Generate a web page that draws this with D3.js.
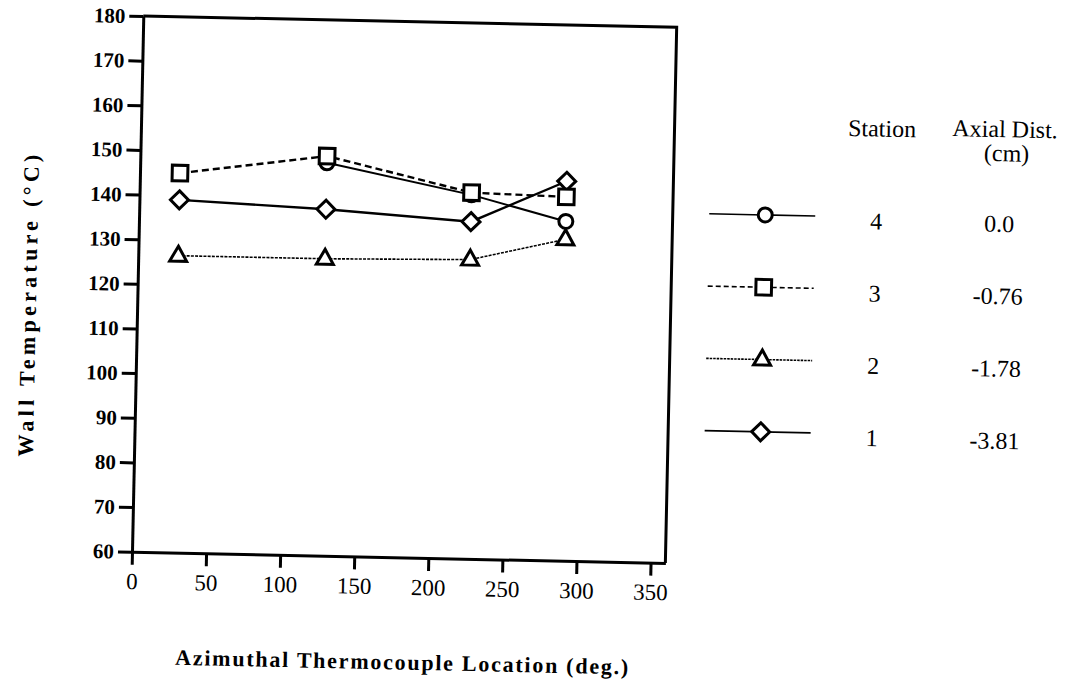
<!DOCTYPE html>
<html>
<head>
<meta charset="utf-8">
<script src="https://cdn.jsdelivr.net/npm/d3@7"></script>
<style>
  body { margin: 0; background: #fff; }
  svg { display: block; }
  text { font-family: "Liberation Serif", "Times New Roman", serif; fill: #000; }
</style>
</head>
<body>
<svg id="chart" width="1080" height="689"></svg>
<script>
// Azimuthal thermocouple positions (deg.)
const azimuth = [27, 126, 224, 288];

// Wall temperature (°C) per station; null = no reading
const station4 = [null, 148, 141.5, 136];
const station3 = [145, 149.5, 142, 141.5];
const station2 = [126.5, 126.5, 127, 132];
const station1 = [139, 137.6, 135.5, 145];

// Legend columns
const stationIds = ["4", "3", "2", "1"];
const axialDist = ["0.0", "-0.76", "-1.78", "-3.81"];

// Axis ticks
const xTicks = [0, 50, 100, 150, 200, 250, 300, 350];
const yTicks = [60, 70, 80, 90, 100, 110, 120, 130, 140, 150, 160, 170, 180];

const W = 533.5, H = 535.8;
const svg = d3.select("#chart");
// whole figure sits slightly tilted on the page
const g = svg.append("g").attr("transform", "translate(143.3,16) rotate(1.21)");

const x = d3.scaleLinear().domain([0, 360]).range([0, W]);
const y = d3.scaleLinear().domain([60, 180]).range([H, 0]);

// frame: top and right edges
g.append("path")
  .attr("d", `M${x(0)},${y(180)}H${x(360)}V${y(60)}`)
  .attr("fill", "none").attr("stroke", "#000").attr("stroke-width", 3);

// y axis
const yAx = g.append("g")
  .call(d3.axisLeft(y).tickValues(yTicks).tickSize(14).tickPadding(4).tickSizeOuter(0));
yAx.select(".domain").attr("stroke-width", 3);
yAx.selectAll(".tick line").attr("stroke-width", 3);
yAx.selectAll(".tick text")
  .style("font-size", "21px").style("font-weight", "bold")
  .style("font-family", "'Liberation Serif', serif");

// x axis
const xAx = g.append("g").attr("transform", `translate(0,${H})`)
  .call(d3.axisBottom(x).tickValues(xTicks).tickSize(13).tickPadding(8).tickSizeOuter(0));
xAx.select(".domain").attr("stroke-width", 3);
xAx.selectAll(".tick line").attr("stroke-width", 3);
xAx.selectAll(".tick text")
  .style("font-size", "23px")
  .style("font-family", "'Liberation Serif', serif");

// axis titles
g.append("text")
  .attr("transform", `translate(-109,292) rotate(-90)`)
  .attr("text-anchor", "middle").attr("dy", "0.35em")
  .attr("textLength", 302).attr("lengthAdjust", "spacing")
  .style("font-size", "22px").style("font-weight", "bold")
  .text("Wall Temperature (°C)");

g.append("text")
  .attr("x", 272).attr("y", 648)
  .attr("text-anchor", "middle")
  .attr("textLength", 453).attr("lengthAdjust", "spacing")
  .style("font-size", "22px").style("font-weight", "bold")
  .text("Azimuthal Thermocouple Location (deg.)");

// marker shapes (centred on 0,0)
const shapes = {
  circle: "M7,0A7,7 0 1,1 -7,0A7,7 0 1,1 7,0Z",
  square: "M-7.8,-7.8H7.8V7.8H-7.8Z",
  triangle: "M0,-9.5L8.5,5.5H-8.5Z",
  diamond: "M0,-9L9,0L0,9L-9,0Z"
};

const series = [
  { id: "2", values: station2, shape: "triangle", dash: "3,1.2", width: 1.6 },
  { id: "1", values: station1, shape: "diamond", dash: null, width: 2.4 },
  { id: "4", values: station4, shape: "circle", dash: null, width: 2.0 },
  { id: "3", values: station3, shape: "square", dash: "7,4", width: 2.4 }
];

const line = d3.line()
  .defined(d => d[1] != null)
  .x(d => x(d[0])).y(d => y(d[1]));

// lines first, markers on top
series.forEach(s => {
  g.append("path")
    .datum(azimuth.map((a, i) => [a, s.values[i]]))
    .attr("d", line)
    .attr("fill", "none").attr("stroke", "#000")
    .attr("stroke-width", s.width)
    .attr("stroke-dasharray", s.dash);
});
series.forEach(s => {
  g.selectAll(null)
    .data(azimuth.map((a, i) => [a, s.values[i]]).filter(d => d[1] != null))
    .join("path")
    .attr("d", shapes[s.shape])
    .attr("transform", d => `translate(${x(d[0])},${y(d[1])})`)
    .attr("fill", "#fff").attr("stroke", "#000").attr("stroke-width", 3);
});

// legend
const legend = g.append("g").attr("class", "legend");
legend.append("text").attr("x", 741).attr("y", 105).attr("text-anchor", "middle")
  .style("font-size", "24px").text("Station");
legend.append("text").attr("x", 864).attr("y", 103).attr("text-anchor", "middle")
  .style("font-size", "24px").text("Axial Dist.");
legend.append("text").attr("x", 866).attr("y", 127).attr("text-anchor", "middle")
  .style("font-size", "24px").text("(cm)");

const legendStyle = {
  "4": { shape: "circle", dash: null },
  "3": { shape: "square", dash: "5,3" },
  "2": { shape: "triangle", dash: "2.5,1" },
  "1": { shape: "diamond", dash: null }
};
stationIds.forEach((id, i) => {
  const row = legend.append("g").attr("transform", `translate(626,${185.8 + i * 72.3})`);
  const st = legendStyle[id];
  row.append("line").attr("x1", -56).attr("x2", 50).attr("y1", 0).attr("y2", 0)
    .attr("stroke", "#000").attr("stroke-width", 1.6)
    .attr("stroke-dasharray", st.dash);
  row.append("path").attr("d", shapes[st.shape])
    .attr("fill", "#fff").attr("stroke", "#000").attr("stroke-width", 3);
  row.append("text").attr("x", 111).attr("y", 12).attr("text-anchor", "middle")
    .style("font-size", "24px").text(id);
  row.append("text").attr("x", 234).attr("y", 12).attr("text-anchor", "middle")
    .style("font-size", "24px").text(axialDist[i]);
});
</script>
</body>
</html>
